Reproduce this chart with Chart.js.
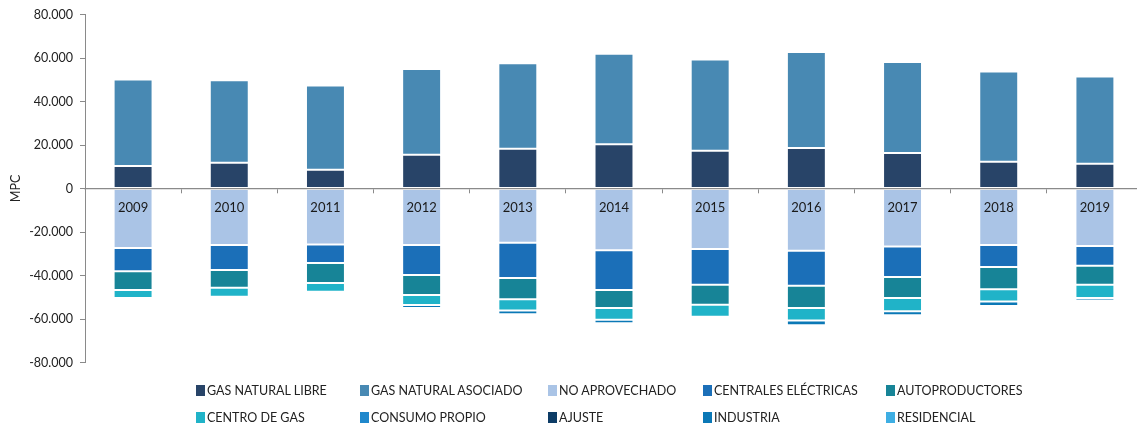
<!DOCTYPE html>
<html>
<head>
<meta charset="utf-8">
<script src="https://cdn.jsdelivr.net/npm/chart.js@4/dist/chart.umd.min.js"></script>
<style>
  html, body { margin: 0; padding: 0; background: #fff; overflow: hidden; }
  #wrap { position: absolute; left: 0; top: 0; width: 1143px; height: 377px; }
  #legend { position: absolute; left: 0; top: 0; width: 1137px; height: 425px; pointer-events: none;
            font-family: Lato, "Liberation Sans", sans-serif; font-size: 12.5px; color: #222; }
  .item { position: absolute; display: flex; align-items: center; white-space: nowrap; }
  .item span.box { display: inline-block; width: 9px; height: 11px; margin-right: 2px; }
</style>
</head>
<body>
<div id="wrap"><canvas id="balance"></canvas></div>
<div id="legend"></div>
<script>
// values in MPC, per year
var years = ['2009', '2010', '2011', '2012', '2013', '2014', '2015', '2016', '2017', '2018', '2019'];
var gasLibre      = [10300, 11800, 8600, 15500, 18300, 20400, 17400, 18600, 16300, 12300, 11400];
var gasAsociado   = [39800, 38000, 38700, 39400, 39300, 41500, 41900, 44200, 41900, 41500, 40100];
var noAprovechado = [-27400, -26000, -25800, -26000, -24900, -28400, -27800, -28600, -26700, -26000, -26400];
var centrales     = [-10600, -11500, -8500, -13800, -16300, -18300, -16500, -16100, -14000, -10100, -9100];
var autoprod      = [-8700, -8100, -9200, -9200, -9700, -8200, -9200, -10200, -9600, -10200, -8800];
var centroGas     = [-3600, -4200, -4000, -4600, -5200, -5400, -5500, -5800, -6100, -5700, -6000];
var consumoPropio = [0, 0, 0, 0, 0, 0, 0, 0, 0, 0, 0];
var ajuste        = [0, 0, 0, 0, 0, 0, 0, 0, 0, 0, 0];
var industria     = [0, 0, 0, -1300, -1700, -1600, -600, -2200, -1900, -2000, -1200];
var residencial   = [0, 0, 0, 0, 0, 0, 0, 0, 0, 0, 0];

var series = [
  { label: 'GAS NATURAL LIBRE', data: gasLibre, color: '#284468' },
  { label: 'GAS NATURAL ASOCIADO', data: gasAsociado, color: '#4889b3' },
  { label: 'NO APROVECHADO', data: noAprovechado, color: '#aac4e6' },
  { label: 'CENTRALES ELÉCTRICAS', data: centrales, color: '#1b6fb8' },
  { label: 'AUTOPRODUCTORES', data: autoprod, color: '#178497' },
  { label: 'CENTRO DE GAS', data: centroGas, color: '#20b3c8' },
  { label: 'CONSUMO PROPIO', data: consumoPropio, color: '#2088cc' },
  { label: 'AJUSTE', data: ajuste, color: '#0d3c66' },
  { label: 'INDUSTRIA', data: industria, color: '#0b78b6' },
  { label: 'RESIDENCIAL', data: residencial, color: '#3eaee3' }
];

function miles(v) {
  var s = String(Math.abs(v)).replace(/\B(?=(\d{3})+(?!\d))/g, '.');
  return v < 0 ? '-' + s : s;
}

var font = { family: 'Lato, "Liberation Sans", sans-serif', size: 12.5 };

new Chart('balance', {
  type: 'bar',
  data: {
    labels: years,
    datasets: series.map(function (s) {
      return {
        label: s.label,
        data: s.data,
        backgroundColor: s.color,
        borderColor: 'rgba(255,255,255,0.25)',
        // no outline on empty segments
        borderWidth: function (c) { return c.raw ? 1 : 0; },
        borderSkipped: false,
        barPercentage: 1,
        categoryPercentage: 0.405
      };
    })
  },
  options: {
    responsive: true,
    maintainAspectRatio: false,
    animation: false,
    layout: { padding: { top: 9, bottom: 8, left: 0, right: 0 } },
    plugins: { legend: { display: false }, tooltip: { enabled: false } },
    scales: {
      x: {
        stacked: true,
        position: { y: 0 },
        border: { display: true, color: '#8a8a8a', width: 1.3, z: 1 },
        grid: { offset: true, drawOnChartArea: false, drawTicks: true, tickLength: 4, color: '#8a8a8a' },
        ticks: { z: 1, color: '#1a1a1a', font: { family: font.family, size: 13 }, padding: 8, maxRotation: 0 }
      },
      y: {
        stacked: true,
        min: -80000,
        max: 80000,
        afterFit: function (scale) { scale.width = 85; },
        border: { display: true, color: '#8a8a8a' },
        grid: { drawOnChartArea: false, drawTicks: true, tickLength: 5, color: '#8a8a8a' },
        ticks: { stepSize: 20000, color: '#222', font: font, padding: 7, callback: function (v) { return miles(v); } },
        title: { display: true, text: 'MPC', color: '#222', font: font, padding: { top: 8, bottom: 4 } }
      }
    }
  }
});

// legend laid out in two rows of five columns
var cols = [196, 360, 548, 703, 886];
var rows = [390, 417];
var legend = document.getElementById('legend');
series.forEach(function (s, i) {
  var el = document.createElement('div');
  el.className = 'item';
  el.style.left = cols[i % 5] + 'px';
  el.style.top = (rows[Math.floor(i / 5)] - 8) + 'px';
  el.style.height = '16px';
  el.innerHTML = '<span class="box" style="background:' + s.color + '"></span>' + s.label;
  legend.appendChild(el);
});
</script>
</body>
</html>
